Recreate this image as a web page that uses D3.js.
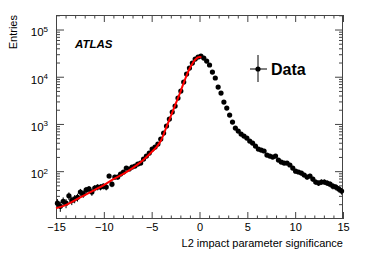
<!DOCTYPE html>
<html>
<head>
<meta charset="utf-8">
<script src="https://cdn.jsdelivr.net/npm/d3@7"></script>
<style>
  body { margin: 0; background: #fff; }
  svg { display: block; font-family: 'Liberation Sans', Arial, sans-serif; }
</style>
</head>
<body>
<div id="chart"></div>
<script>
// bin centres (width 0.3) and entries
const binCentres = d3.range(100).map(i => -14.85 + 0.3 * i)
const entries = [
  21, 18, 23, 21, 30, 24, 26, 28, 36, 33,
  40, 42, 36, 44, 46, 46, 48, 46, 79, 53,
  75, 75, 87, 96, 116, 111, 122, 128, 141, 148,
  180, 209, 242, 294, 324, 375, 479, 642, 903, 1270,
  1787, 2395, 3540, 4980, 7720, 11410, 15290, 19510, 23700, 26150,
  27450, 24900, 21510, 17700, 12580, 9390, 6050, 4515, 2910, 2172,
  1544, 1097, 819, 707, 611, 554, 503, 434, 394, 340,
  294, 280, 267, 219, 209, 199, 209, 172, 156, 148,
  148, 135, 116, 100, 96, 91, 83, 75, 79, 68,
  59, 56, 59, 59, 56, 53, 48, 46, 42, 38
]

// fit curve samples
const fitX = [-15, -14, -13, -12, -11, -10, -9, -8, -7, -6, -5, -4.5, -4, -3.5, -3, -2.5, -2, -1.5, -1, -0.5, 0, 0.2]
const fitY = [16.5, 19.1, 24.4, 31.2, 39.8, 50.8, 68, 86.8, 116, 164, 254, 324, 456, 819, 1471, 2640, 4740, 8940, 15290, 22580, 26150, 26000]

const xMajor = [-15, -10, -5, 0, 5, 10, 15]
const yMajor = [100, 1000, 10000, 100000]
const yExponents = ['2', '3', '4', '5']

const width = 374
const height = 253
const plot = { left: 56, right: 343, top: 15, bottom: 219 }

const svg = d3.select('#chart').append('svg')
  .attr('width', width)
  .attr('height', height)

const x = d3.scaleLinear().domain([-15, 15]).range([plot.left, plot.right])
const y = d3.scaleLog().domain([9.7, 2.03e5]).range([plot.bottom, plot.top])

const xMinor = d3.range(-15, 15.01, 1).filter(v => !xMajor.includes(v))
const yMinor = []
for (let e = 1; e <= 5; e++) {
  for (let k = 2; k <= 9; k++) {
    const v = k * Math.pow(10, e)
    if (v >= 9.7 && v <= 2.03e5) yMinor.push(v)
  }
}

const frameColor = '#444'

function styleAxis (g) {
  g.select('.domain').remove()
  g.selectAll('line').attr('stroke', frameColor)
}

// x axes, ticks pointing inward
svg.append('g').attr('transform', `translate(0,${plot.bottom})`)
  .call(d3.axisBottom(x).tickValues(xMajor).tickSize(-7).tickPadding(4).tickFormat(d3.format('d')))
  .call(styleAxis)
  .call(g => g.selectAll('text').attr('font-size', 11).attr('fill', '#000').attr('font-family', 'Liberation Sans, Arial, sans-serif'))
svg.append('g').attr('transform', `translate(0,${plot.bottom})`)
  .call(d3.axisBottom(x).tickValues(xMinor).tickSize(-3.5).tickFormat(''))
  .call(styleAxis)
svg.append('g').attr('transform', `translate(0,${plot.top})`)
  .call(d3.axisTop(x).tickValues(xMajor).tickSize(-7).tickFormat(''))
  .call(styleAxis)
svg.append('g').attr('transform', `translate(0,${plot.top})`)
  .call(d3.axisTop(x).tickValues(xMinor).tickSize(-3.5).tickFormat(''))
  .call(styleAxis)

// y axes
const yLeft = svg.append('g').attr('transform', `translate(${plot.left},0)`)
  .call(d3.axisLeft(y).tickValues(yMajor).tickSize(-8).tickPadding(8).tickFormat(() => ''))
  .call(styleAxis)
yLeft.selectAll('.tick text')
  .attr('font-size', 11.5)
  .attr('fill', '#000')
  .attr('font-family', 'Liberation Sans, Arial, sans-serif')
  .attr('dy', '0.55em')
  .each(function (d, i) {
    const t = d3.select(this)
    t.append('tspan').text('10')
    t.append('tspan').attr('dy', '-0.55em').attr('font-size', 8).text(yExponents[i])
  })
svg.append('g').attr('transform', `translate(${plot.left},0)`)
  .call(d3.axisLeft(y).tickValues(yMinor).tickSize(-4).tickFormat(''))
  .call(styleAxis)
svg.append('g').attr('transform', `translate(${plot.right},0)`)
  .call(d3.axisRight(y).tickValues(yMajor).tickSize(-8).tickFormat(''))
  .call(styleAxis)
svg.append('g').attr('transform', `translate(${plot.right},0)`)
  .call(d3.axisRight(y).tickValues(yMinor).tickSize(-4).tickFormat(''))
  .call(styleAxis)

// frame
svg.append('rect')
  .attr('x', plot.left + 0.5)
  .attr('y', plot.top + 0.5)
  .attr('width', plot.right - plot.left - 1)
  .attr('height', plot.bottom - plot.top - 1)
  .attr('fill', 'none')
  .attr('stroke', frameColor)
  .attr('stroke-width', 1)

// data with sqrt(N) error bars
const data = binCentres.map((c, i) => ({ x: c, n: entries[i] }))
const points = svg.append('g').attr('class', 'data')
points.selectAll('line.ey').data(data).enter().append('line')
  .attr('class', 'ey')
  .attr('x1', d => x(d.x)).attr('x2', d => x(d.x))
  .attr('y1', d => y(d.n + Math.sqrt(d.n)))
  .attr('y2', d => y(Math.max(d.n - Math.sqrt(d.n), 1)))
  .attr('stroke', '#000').attr('stroke-width', 1)
points.selectAll('line.ex').data(data).enter().append('line')
  .attr('class', 'ex')
  .attr('x1', d => x(d.x - 0.15)).attr('x2', d => x(d.x + 0.15))
  .attr('y1', d => y(d.n)).attr('y2', d => y(d.n))
  .attr('stroke', '#000').attr('stroke-width', 1)
points.selectAll('circle').data(data).enter().append('circle')
  .attr('cx', d => x(d.x))
  .attr('cy', d => y(d.n))
  .attr('r', 2.6)
  .attr('fill', '#000')

// fit
const fit = fitX.map((v, i) => [v, fitY[i]])
svg.append('path')
  .datum(fit)
  .attr('d', d3.line().x(d => x(d[0])).y(d => y(d[1])).curve(d3.curveMonotoneX))
  .attr('fill', 'none')
  .attr('stroke', '#ff0000')
  .attr('stroke-width', 2)

// labels
svg.append('text')
  .attr('x', 75).attr('y', 48)
  .attr('font-size', 11.5).attr('font-weight', 'bold').attr('font-style', 'italic')
  .text('ATLAS')

svg.append('text')
  .attr('x', plot.right).attr('y', 247)
  .attr('text-anchor', 'end')
  .attr('font-size', 11)
  .text('L2 impact parameter significance')

svg.append('text')
  .attr('transform', `translate(17,${plot.top}) rotate(-90)`)
  .attr('text-anchor', 'end')
  .attr('font-size', 11)
  .text('Entries')

// legend
const legend = svg.append('g').attr('transform', 'translate(258,69)')
legend.append('line').attr('x1', 0).attr('x2', 0).attr('y1', -14).attr('y2', 13).attr('stroke', '#000')
legend.append('line').attr('x1', -8).attr('x2', 9).attr('y1', 0).attr('y2', 0).attr('stroke', '#000')
legend.append('circle').attr('r', 2.6).attr('fill', '#000')
legend.append('text')
  .attr('x', 13).attr('y', 6)
  .attr('font-size', 16).attr('font-weight', 'bold')
  .text('Data')
</script>
</body>
</html>
